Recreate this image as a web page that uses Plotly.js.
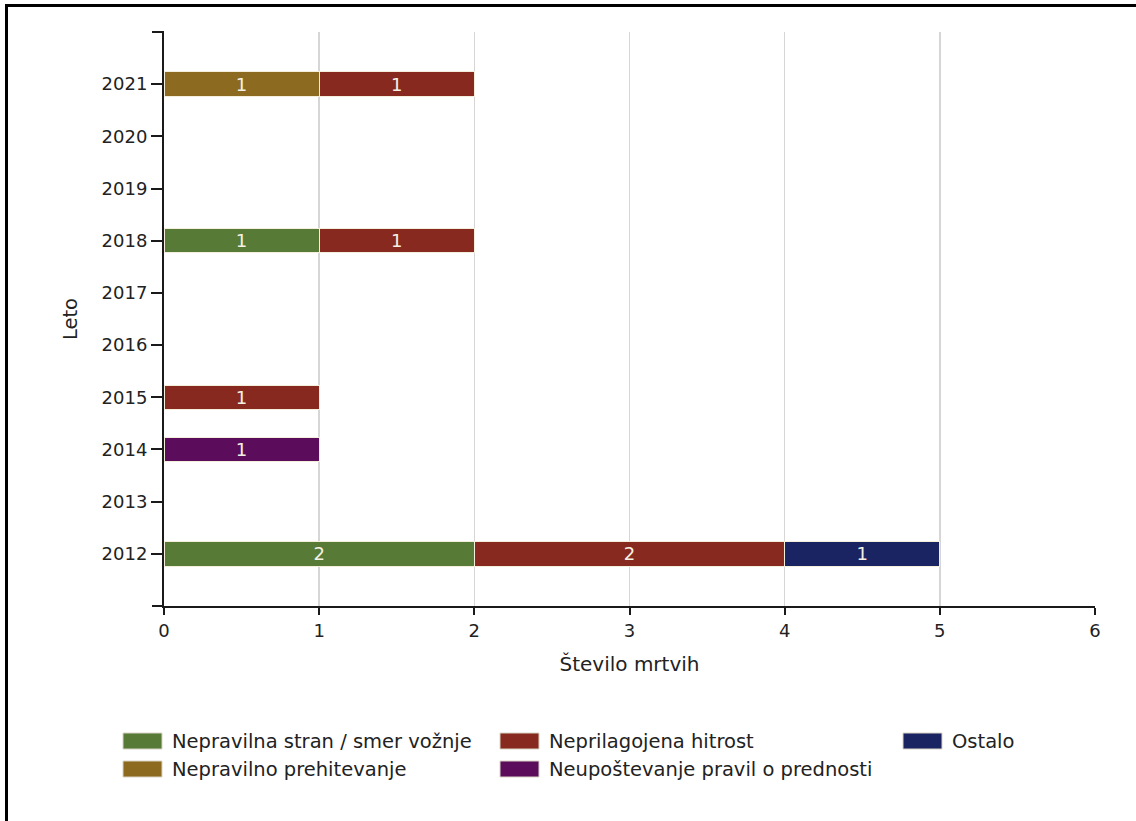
<!DOCTYPE html>
<html><head><meta charset="utf-8">
<script src="https://cdn.plot.ly/plotly-3.0.1.min.js"></script>
<style>
body{margin:0;background:#fff}
#frame{position:absolute;left:5px;top:4px;width:1131px;height:817px;border-top:3px solid #000;border-left:3px solid #000;box-sizing:border-box;pointer-events:none}
</style>
</head><body>
<div id="chart" style="width:1136px;height:821px"></div>
<div id="frame"></div>
<script>
// ---- data ----
const years = ['2012','2013','2014','2015','2016','2017','2018','2019','2020','2021'];
const nepravilnaStran      = [2, null, null, null, null, null, 1, null, null, null];
const nepravilnoPrehit     = [null, null, null, null, null, null, null, null, null, 1];
const neupostevanjePravil  = [null, null, 1, null, null, null, null, null, null, null];
const neprilagojenaHitrost = [2, null, null, 1, null, null, 1, null, null, 1];
const ostalo               = [1, null, null, null, null, null, null, null, null, null];
const xTicks = [0, 1, 2, 3, 4, 5, 6];

const seriesNames  = ['Nepravilna stran / smer vožnje','Nepravilno prehitevanje','Neupoštevanje pravil o prednosti','Neprilagojena hitrost','Ostalo'];
const seriesValues = [nepravilnaStran, nepravilnoPrehit, neupostevanjePravil, neprilagojenaHitrost, ostalo];
const seriesColors = ['#577a37','#8c6a1f','#5b0c5b','#88291f','#1b2462'];
// legend order (row-major, 3 columns)
const legendOrder  = [0, 3, 4, 1, 2];

const FONT = 'DejaVu Sans';
const fs = 18;
const fsText = 19.5;

const traces = seriesValues.map((vals, i) => ({
  type: 'bar', orientation: 'h',
  y: years, x: vals, name: seriesNames[i],
  marker: {color: seriesColors[i], line: {color: '#f3efdc', width: 1}},
  width: 0.47,
  texttemplate: '%{x}', textposition: 'inside', insidetextanchor: 'middle',
  textangle: 0, constraintext: 'none',
  textfont: {family: FONT, size: fs, color: '#f4f1e4'},
  showlegend: false, hoverinfo: 'x+y+name'
}));

// plot area in px
const L = 164, R = 1095, T = 32, B = 606;
const px2x = x => (x - L) / (R - L);
const px2y = y => (B - y) / (B - T);

const legendCols = [123, 500, 903];
const legendRows = [741, 769];
const shapes = [
  // end ticks of the y axis
  {type:'line', xref:'paper', yref:'paper', x0:px2x(152), x1:0, y0:1, y1:1, line:{color:'#1a1a1a', width:2}},
  {type:'line', xref:'paper', yref:'paper', x0:px2x(152), x1:0, y0:0, y1:0, line:{color:'#1a1a1a', width:2}}
];
const annotations = [];
legendOrder.forEach((s, k) => {
  const col = k % 3, row = Math.floor(k / 3);
  const x0 = legendCols[col], yc = legendRows[row];
  shapes.push({type:'rect', xref:'paper', yref:'paper',
    x0:px2x(x0), x1:px2x(x0+39), y0:px2y(yc-8), y1:px2y(yc+8),
    fillcolor: seriesColors[s], line:{color:'#d8d4c4', width:1}});
  annotations.push({xref:'paper', yref:'paper', x:px2x(x0+47), y:px2y(yc),
    xanchor:'left', yanchor:'middle', showarrow:false, text: seriesNames[s],
    font:{family:FONT, size:fsText, color:'#222'}});
});

const layout = {
  width: 1136, height: 821,
  margin: {l: L, r: 1136 - R, t: T, b: 821 - B},
  paper_bgcolor: '#fff', plot_bgcolor: '#fff',
  barmode: 'stack', showlegend: false,
  font: {family: FONT, size: fs, color: '#222'},
  xaxis: {
    range: [0, 6], tickvals: xTicks, ticktext: xTicks.map(String),
    showgrid: true, gridcolor: '#d6d6d6', gridwidth: 1.5,
    zeroline: false, showline: true, linecolor: '#1a1a1a', linewidth: 2,
    ticks: 'outside', ticklen: 7, tickwidth: 2, tickcolor: '#1a1a1a',
    tickfont: {family: FONT, size: fs, color: '#222'},
    title: {text: 'Število mrtvih', font: {family: FONT, size: 20, color: '#222'}, standoff: 17}
  },
  yaxis: {
    type: 'category', categoryorder: 'array', categoryarray: years,
    range: [-1, 10],
    showgrid: false, zeroline: false, showline: true, linecolor: '#1a1a1a', linewidth: 2,
    ticks: 'outside', ticklen: 11, tickwidth: 2, tickcolor: '#1a1a1a',
    tickfont: {family: FONT, size: fs, color: '#222'},
    title: {text: 'Leto', font: {family: FONT, size: fsText, color: '#222'}, standoff: 19}
  },
  shapes: shapes,
  annotations: annotations
};

Plotly.newPlot('chart', traces, layout, {staticPlot: true, displayModeBar: false});
</script>
</body></html>
